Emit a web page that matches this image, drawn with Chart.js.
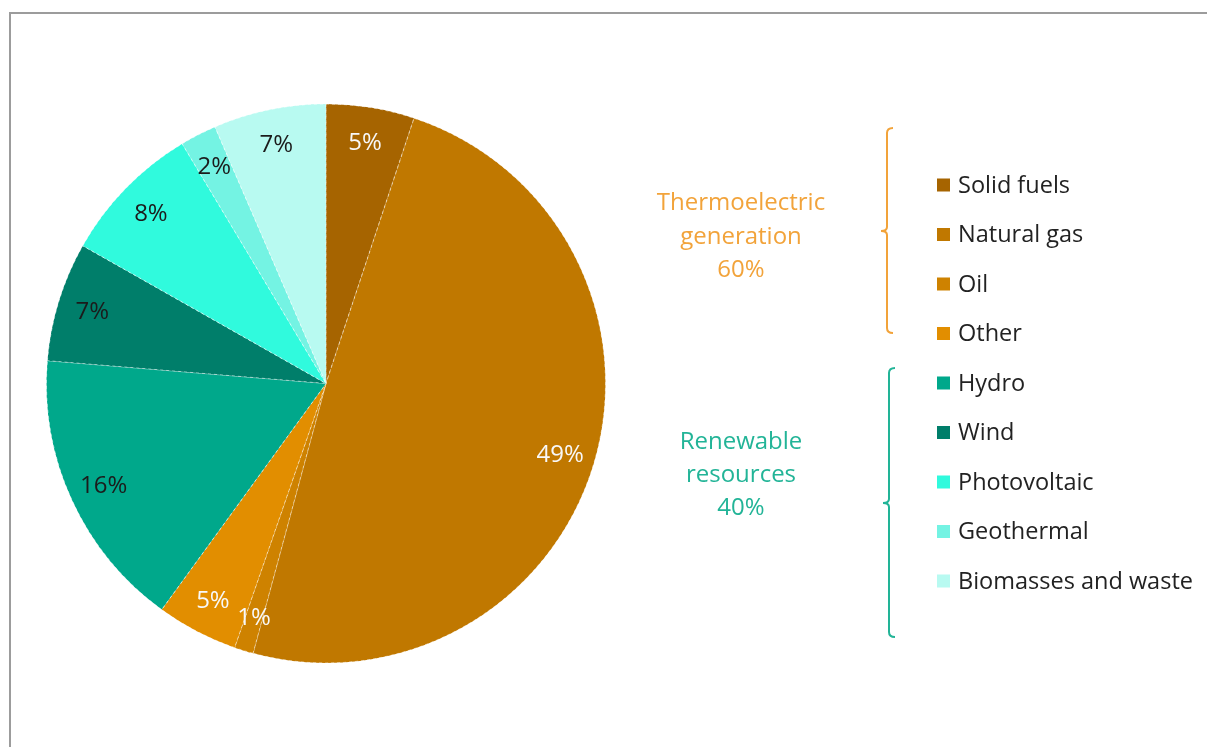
<!DOCTYPE html>
<html>
<head>
<meta charset="utf-8">
<script src="https://cdn.jsdelivr.net/npm/chart.js@4"></script>
<style>
  html, body { margin: 0; padding: 0; background: #fff; overflow: hidden; }
  #wrap { position: relative; width: 1207px; height: 747px; }
  #frame { position: absolute; left: 9px; top: 12px; width: 1300px; height: 800px; border: 2px solid #9c9c9c; box-sizing: border-box; }
  canvas { position: absolute; left: 0; top: 0; }
</style>
</head>
<body>
<div id="wrap">
  <div id="frame"></div>
  <canvas id="c" width="1207" height="747"></canvas>
</div>
<script>
const categories = ["Solid fuels", "Natural gas", "Oil", "Other", "Hydro", "Wind", "Photovoltaic", "Geothermal", "Biomasses and waste"];
const shares = [5.1, 49.1, 1.1, 4.7, 16.3, 6.9, 8.2, 2.1, 6.5];
const sliceLabels = ["5%", "49%", "1%", "5%", "16%", "7%", "8%", "2%", "7%"];
const groupNames = [["Thermoelectric", "generation", "60%"], ["Renewable", "resources", "40%"]];
const groupMembers = [[0, 1, 2, 3], [4, 5, 6, 7, 8]];

const sliceColors = ["#A66400", "#C07800", "#CE8200", "#E28E00", "#00A88B", "#007E6A", "#30FADD", "#74F3E3", "#B8FAF1"];
const labelColors = ["#f8f8f8", "#f8f8f8", "#f8f8f8", "#f8f8f8", "#1b1b1b", "#1b1b1b", "#1b1b1b", "#1b1b1b", "#1b1b1b"];
const groupColors = ["#F2A33A", "#22B497"];
const FONT = '"Open Sans", "Noto Sans", sans-serif';

const overlay = {
  id: 'overlay',
  afterDatasetsDraw(chart) {
    const ctx = chart.ctx;
    const meta = chart.getDatasetMeta(0);
    ctx.save();
    ctx.font = '24px ' + FONT;
    ctx.textAlign = 'center';
    ctx.textBaseline = 'middle';
    meta.data.forEach((arc, i) => {
      const p = arc.getProps(['x', 'y', 'startAngle', 'endAngle', 'outerRadius'], true);
      const mid = (p.startAngle + p.endAngle) / 2;
      const r = p.outerRadius * 0.875;
      ctx.fillStyle = labelColors[i];
      ctx.fillText(sliceLabels[i], p.x + Math.cos(mid) * r, p.y + Math.sin(mid) * r + 1);
    });
    ctx.restore();
  },
  afterDraw(chart) {
    const ctx = chart.ctx;
    const labels = chart.data.labels;
    const colors = chart.data.datasets[0].backgroundColor;
    ctx.save();
    // legend
    const sqX = 937, sqS = 13, txX = 958, y0 = 185, dy = 49.5;
    ctx.font = '23.5px ' + FONT;
    ctx.textAlign = 'left';
    ctx.textBaseline = 'middle';
    labels.forEach((lab, i) => {
      const y = y0 + i * dy;
      ctx.fillStyle = colors[i];
      ctx.fillRect(sqX, y - sqS / 2, sqS, sqS);
      ctx.fillStyle = '#222222';
      ctx.fillText(lab, txX, y + 1);
    });
    // brackets
    const brackets = [
      { x: 887, top: 128, bot: 333, mid: 231 },
      { x: 889, top: 368, bot: 637, mid: 503 }
    ];
    brackets.forEach((b, g) => {
      ctx.strokeStyle = groupColors[g];
      ctx.lineWidth = 2;
      ctx.beginPath();
      ctx.moveTo(b.x + 6, b.top);
      ctx.quadraticCurveTo(b.x, b.top, b.x, b.top + 5);
      ctx.lineTo(b.x, b.mid - 4);
      ctx.quadraticCurveTo(b.x, b.mid, b.x - 6, b.mid);
      ctx.quadraticCurveTo(b.x, b.mid, b.x, b.mid + 4);
      ctx.lineTo(b.x, b.bot - 5);
      ctx.quadraticCurveTo(b.x, b.bot, b.x + 6, b.bot);
      ctx.stroke();
    });
    // group labels
    ctx.font = '24px ' + FONT;
    ctx.textAlign = 'center';
    const gy = [[203, 237, 270], [442, 475, 508]];
    groupNames.forEach((lines, g) => {
      ctx.fillStyle = groupColors[g];
      lines.forEach((t, k) => ctx.fillText(t, 741, gy[g][k]));
    });
    ctx.restore();
  }
};

new Chart(document.getElementById('c'), {
  type: 'pie',
  data: {
    labels: categories,
    datasets: [{
      data: shares,
      backgroundColor: sliceColors,
      borderColor: 'rgba(255,255,255,0.55)',
      borderWidth: 1,
      borderDash: [3, 3]
    }]
  },
  options: {
    responsive: false,
    animation: false,
    layout: { padding: { left: 46, right: 601, top: 103, bottom: 83 } },
    plugins: { legend: { display: false }, tooltip: { enabled: false } }
  },
  plugins: [overlay]
});
</script>
</body>
</html>
